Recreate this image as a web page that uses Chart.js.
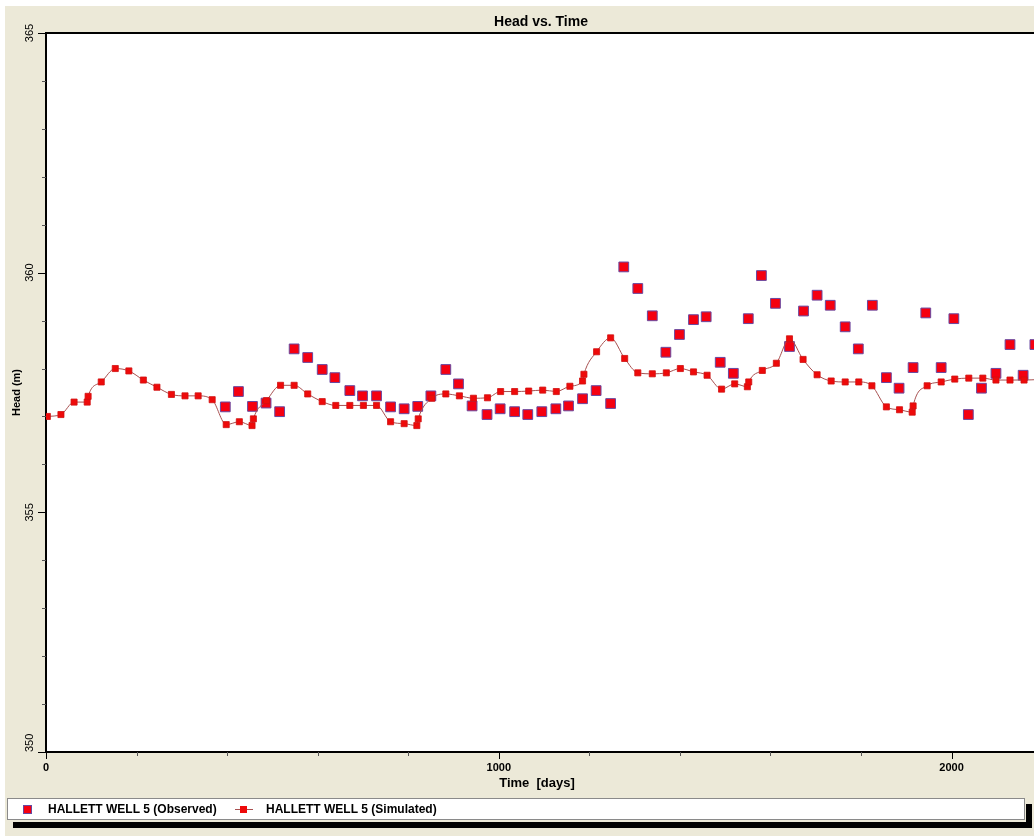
<!DOCTYPE html>
<html><head><meta charset="utf-8">
<script src="https://cdn.jsdelivr.net/npm/chart.js@4.4.1/dist/chart.umd.min.js"></script>
<style>
html,body{margin:0;padding:0;background:#fff;width:1034px;height:836px;overflow:hidden}
#wrap{position:absolute;left:5px;top:6px;width:1029px;height:830px;background:#ECE9D8}
canvas{display:block}
</style></head><body>
<div id="wrap"><canvas id="c" width="1029" height="830"></canvas></div>
<script>
const chartTitle = 'Head vs. Time';
const xTitle = 'Time  [days]';
const yTitle = 'Head (m)';
const xTicks = [0, 200, 400, 600, 800, 1000, 1200, 1400, 1600, 1800, 2000];
const xTickLabels = [0, 1000, 2000];
const yTicks = [350, 351, 352, 353, 354, 355, 356, 357, 358, 359, 360, 361, 362, 363, 364, 365];
const yTickLabels = [350, 355, 360, 365];
const obsName = 'HALLETT WELL 5 (Observed)';
const simName = 'HALLETT WELL 5 (Simulated)';

const simDays = [3,33,62,91,93,122,153,183,215,245,277,307,336,367,398,427,455,458,487,518,548,578,610,640,671,701,730,761,791,819,822,852,883,913,944,975,1004,1035,1066,1097,1127,1157,1185,1188,1216,1247,1278,1307,1339,1370,1401,1430,1460,1492,1521,1549,1552,1582,1613,1642,1672,1703,1734,1765,1795,1824,1856,1885,1913,1915,1946,1977,2007,2038,2069,2098,2129,2160,2191];
const simHead = [357.00,357.04,357.30,357.30,357.42,357.72,358.00,357.95,357.76,357.61,357.46,357.43,357.43,357.35,356.83,356.89,356.81,356.95,357.33,357.65,357.65,357.47,357.31,357.23,357.23,357.23,357.23,356.89,356.85,356.81,356.95,357.38,357.47,357.43,357.38,357.39,357.52,357.52,357.53,357.55,357.52,357.63,357.74,357.88,358.35,358.64,358.21,357.91,357.89,357.91,358.00,357.93,357.86,357.57,357.68,357.62,357.72,357.96,358.11,358.62,358.19,357.87,357.74,357.72,357.72,357.64,357.20,357.14,357.09,357.22,357.64,357.72,357.78,357.80,357.80,357.76,357.76,357.76,357.77];

const obsDays = [396,425,456,486,516,548,578,610,638,671,699,730,761,791,821,850,883,911,941,974,1003,1035,1064,1095,1126,1154,1185,1215,1247,1276,1307,1339,1369,1399,1430,1458,1489,1518,1551,1580,1611,1642,1673,1703,1732,1765,1794,1825,1856,1884,1915,1943,1977,2005,2037,2066,2098,2129,2158,2184];
const obsHead = [357.20,357.52,357.21,357.28,357.10,358.41,358.23,357.98,357.81,357.54,357.43,357.43,357.20,357.16,357.21,357.43,357.98,357.68,357.22,357.04,357.16,357.10,357.04,357.10,357.16,357.22,357.37,357.54,357.27,360.12,359.67,359.10,358.34,358.71,359.02,359.08,358.13,357.90,359.04,359.94,359.36,358.46,359.20,359.53,359.32,358.87,358.41,359.32,357.81,357.59,358.02,359.16,358.02,359.04,357.04,357.59,357.90,358.50,357.86,358.50];

const FONT = "'Liberation Sans', Arial, sans-serif";
const OBS_FILL = '#F50010', OBS_BORDER = '#6848A0';
const SIM_FILL = '#EE0A0A', SIM_BORDER = '#D01010', LINE_COLOR = '#A85050';

const decor = {
  id: 'decor',
  beforeDraw(chart) {
    const {ctx, chartArea: a} = chart;
    ctx.save();
    ctx.fillStyle = '#fff';
    ctx.fillRect(a.left, a.top, a.right - a.left, a.bottom - a.top);
    ctx.restore();
  },
  afterDraw(chart) {
    const {ctx, chartArea: a, scales: {x, y}} = chart;
    ctx.save();
    // top border of plot
    ctx.strokeStyle = '#000'; ctx.lineWidth = 2;
    ctx.beginPath(); ctx.moveTo(a.left - 1, a.top); ctx.lineTo(a.right, a.top); ctx.stroke();
    // tick marks
    ctx.lineWidth = 1;
    xTicks.forEach(v => {
      const px = Math.round(x.getPixelForValue(v)) + 0.5;
      const major = xTickLabels.includes(v);
      ctx.strokeStyle = major ? '#000' : '#555';
      ctx.beginPath(); ctx.moveTo(px, a.bottom); ctx.lineTo(px, a.bottom + (major ? 7 : 4)); ctx.stroke();
    });
    yTicks.forEach(v => {
      const py = Math.round(y.getPixelForValue(v)) + 0.5;
      const major = yTickLabels.includes(v);
      ctx.strokeStyle = major ? '#000' : '#555';
      ctx.beginPath(); ctx.moveTo(a.left - (major ? 8 : 4), py); ctx.lineTo(a.left, py); ctx.stroke();
    });
    // x tick labels
    ctx.fillStyle = '#000';
    ctx.font = 'bold 11px ' + FONT;
    ctx.textAlign = 'center';
    ctx.textBaseline = 'middle';
    xTickLabels.forEach(v => {
      ctx.fillText(String(v), x.getPixelForValue(v), a.bottom + 16);
    });
    // y tick labels (rotated)
    ctx.font = '11px ' + FONT;
    yTickLabels.forEach(v => {
      const py = y.getPixelForValue(v);
      ctx.save();
      ctx.translate(25, py);
      ctx.rotate(-Math.PI / 2);
      ctx.textAlign = (v === y.min) ? 'left' : 'center';
      ctx.fillText(String(v), 0, 0);
      ctx.restore();
    });
    // y title
    ctx.save();
    ctx.font = 'bold 11px ' + FONT;
    ctx.translate(12, (a.top + a.bottom) / 2);
    ctx.rotate(-Math.PI / 2);
    ctx.textAlign = 'center';
    ctx.fillText(yTitle, 0, 0);
    ctx.restore();
    // x title
    ctx.font = 'bold 13px ' + FONT;
    ctx.textAlign = 'center';
    ctx.fillText(xTitle, 532, 777);
    // chart title
    ctx.font = 'bold 14px ' + FONT;
    ctx.fillText(chartTitle, 536, 16);
    // legend shadow + box
    ctx.fillStyle = '#000';
    ctx.fillRect(8, 816, 1019, 6);
    ctx.fillRect(1021, 798, 6, 24);
    ctx.fillStyle = '#fff';
    ctx.fillRect(2, 792, 1017, 21);
    ctx.strokeStyle = '#8a8a8a'; ctx.lineWidth = 1;
    ctx.strokeRect(2.5, 792.5, 1017, 21);
    // observed marker
    ctx.fillStyle = OBS_FILL; ctx.strokeStyle = OBS_BORDER;
    ctx.fillRect(18, 799, 9, 9); ctx.strokeRect(18.5, 799.5, 8, 8);
    // simulated marker
    ctx.strokeStyle = LINE_COLOR; ctx.lineWidth = 1;
    ctx.beginPath(); ctx.moveTo(230, 803.5); ctx.lineTo(248, 803.5); ctx.stroke();
    ctx.fillStyle = SIM_FILL; ctx.fillRect(235, 800, 7, 7);
    // legend text
    ctx.fillStyle = '#000';
    ctx.font = 'bold 12px ' + FONT;
    ctx.textAlign = 'left';
    ctx.fillText(obsName, 43, 804);
    ctx.fillText(simName, 261, 804);
    ctx.restore();
  }
};

new Chart(document.getElementById('c'), {
  type: 'scatter',
  data: {
    datasets: [
      {
        label: simName,
        data: simDays.map((d, i) => ({x: d, y: simHead[i]})),
        showLine: true,
        borderColor: LINE_COLOR,
        borderWidth: 1,
        cubicInterpolationMode: 'monotone',
        pointStyle: 'rect',
        pointRadius: 4.3,
        pointBackgroundColor: SIM_FILL,
        pointBorderColor: SIM_BORDER,
        pointBorderWidth: 0.8,
        order: 0
      },
      {
        label: obsName,
        data: obsDays.map((d, i) => ({x: d, y: obsHead[i]})),
        showLine: false,
        pointStyle: 'rect',
        pointRadius: 6.9,
        pointBackgroundColor: OBS_FILL,
        pointBorderColor: OBS_BORDER,
        pointBorderWidth: 1,
        order: 1
      }
    ]
  },
  options: {
    responsive: false,
    animation: false,
    devicePixelRatio: 1,
    layout: {autoPadding: false, padding: {top: 27, left: 0, right: 0, bottom: 0}},
    plugins: {legend: {display: false}, title: {display: false}, tooltip: {enabled: false}},
    scales: {
      x: {
        type: 'linear', min: 0, max: 2182, position: 'bottom',
        afterFit(s) { s.height = 84; },
        afterBuildTicks(s) { s.ticks = xTicks.map(v => ({value: v})); },
        ticks: {display: false},
        grid: {display: true, drawOnChartArea: false, drawTicks: false},
        border: {display: true, color: '#000', width: 2}
      },
      y: {
        type: 'linear', min: 350, max: 365,
        afterFit(s) { s.width = 41; },
        afterBuildTicks(s) { s.ticks = yTicks.map(v => ({value: v})); },
        ticks: {display: false},
        grid: {display: true, drawOnChartArea: false, drawTicks: false},
        border: {display: true, color: '#000', width: 2}
      }
    }
  },
  plugins: [decor]
});
</script>
</body></html>
